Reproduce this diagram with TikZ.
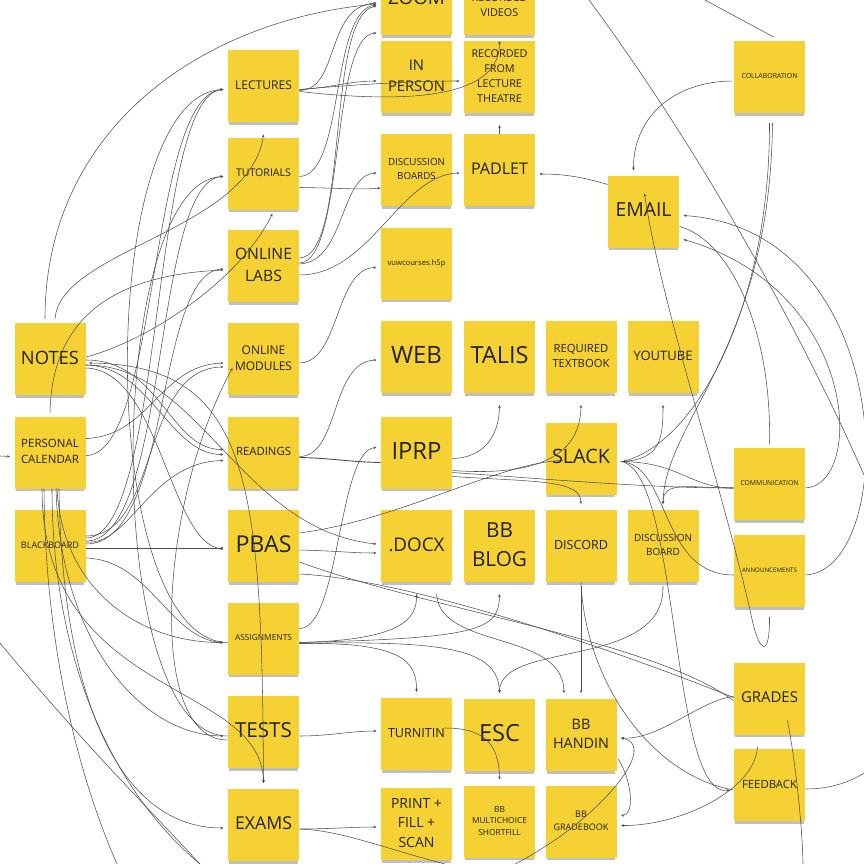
\documentclass[tikz,border=0pt]{standalone}
\usepackage{fontspec}
\setmainfont{Open Sans}
\usepackage{graphicx}
\usetikzlibrary{calc,arrows.meta,shadows}
\definecolor{notey}{RGB}{245,209,52}
\definecolor{ink}{RGB}{34,34,34}
\definecolor{wirec}{RGB}{80,80,80}
\newcommand{\stickytext}[2]{\resizebox{#1pt}{!}{\fontsize{10}{13.8}\selectfont\begin{tabular}{@{}c@{}}#2\end{tabular}}}
\begin{document}
\begin{tikzpicture}[x=1pt,y=-1pt,
 note/.style={rectangle, fill=notey, minimum width=71pt, minimum height=72pt, inner sep=0pt, text=ink,
   drop shadow={shadow xshift=0pt, shadow yshift=-4pt, shadow scale=0.97, opacity=0.25, fill=black}},
 conn/.style={draw=wirec, line width=0.55pt, -{Stealth[length=3pt,width=2.6pt]}},
 conn2/.style={draw=wirec, line width=0.55pt, {Stealth[length=3pt,width=2.6pt]}-{Stealth[length=3pt,width=2.6pt]}},
 plain/.style={draw=wirec, line width=0.55pt}]
\useasboundingbox (0,0) rectangle (864,864);
\clip (0,0) rectangle (864,864);
\fill[white] (0,0) rectangle (864,864);

% free ends
\coordinate (t1) at (589,0);
\coordinate (t2) at (705,0);
\coordinate (r1) at (864,475);
\coordinate (r2) at (864,773);
\coordinate (b1) at (117,864);
\coordinate (b2) at (200,864);
\coordinate (b3) at (445,864);
\coordinate (b4) at (515,864);
\coordinate (b5) at (803,864);
\coordinate (l1) at (0,456);
\coordinate (l2) at (0,643);

% notes
\node[note] (notes) at (50,359) {\stickytext{58}{NOTES}};
\node[note] (pcal) at (50,452.5) {\stickytext{58}{PERSONAL\\CALENDAR}};
\node[note] (bboard) at (50,546) {\stickytext{58}{BLACKBOARD}};

\node[note] (lect) at (263.5,86.5) {\stickytext{57}{LECTURES}};
\node[note] (tut) at (263.5,173.5) {\stickytext{55}{TUTORIALS}};
\node[note] (labs) at (263.5,266) {\stickytext{57}{ONLINE\\LABS}};
\node[note] (mods) at (263.5,359) {\stickytext{57}{ONLINE\\MODULES}};
\node[note] (read) at (263.5,452.5) {\stickytext{55}{READINGS}};
\node[note] (pbas) at (263.5,546) {\stickytext{56}{PBAS}};
\node[note] (assign) at (263.5,638.5) {\stickytext{57}{ASSIGNMENTS}};
\node[note] (tests) at (263.5,732) {\stickytext{57}{TESTS}};
\node[note] (exams) at (263.5,825) {\stickytext{57}{EXAMS}};

\node[note] (zoom) at (416.5,-1) {\stickytext{57}{ZOOM}};
\node[note] (inper) at (416.5,77) {\stickytext{57}{IN\\PERSON}};
\node[note] (discb) at (416.5,170) {\stickytext{57}{DISCUSSION\\BOARDS}};
\node[note] (hfive) at (416.5,263.5) {\stickytext{58}{vuwcourses.h5p}};
\node[note] (web) at (416.5,357) {\stickytext{51}{WEB}};
\node[note] (iprp) at (416.5,452.5) {\stickytext{50}{IPRP}};
\node[note] (docx) at (416.5,546) {\stickytext{56}{.DOCX}};
\node[note] (turn) at (416.5,734) {\stickytext{57}{TURNITIN}};
\node[note] (print) at (416.5,824) {\stickytext{51}{PRINT +\\FILL +\\SCAN}};

\node[note] (recvid) at (499.5,-1) {\raisebox{-7pt}[\height][\depth]{\stickytext{56}{RECORDED\\VIDEOS}}};
\node[note] (recfrom) at (499.5,77) {\stickytext{56}{RECORDED\\FROM\\LECTURE\\THEATRE}};
\node[note] (padlet) at (499.5,170) {\stickytext{57}{PADLET}};
\node[note] (talis) at (499.5,357) {\stickytext{58}{TALIS}};
\node[note] (blog) at (499.5,546) {\stickytext{55}{BB\\BLOG}};
\node[note] (esc) at (499.5,735) {\stickytext{41}{ESC}};
\node[note] (bbmc) at (499.5,821.5) {\stickytext{55}{BB\\MULTICHOICE\\SHORTFILL}};

\node[note] (reqtb) at (581,357) {\stickytext{57}{REQUIRED\\TEXTBOOK}};
\node[note] (slack) at (581,458.5) {\stickytext{58}{SLACK}};
\node[note] (discord) at (581,546) {\stickytext{54}{DISCORD}};
\node[note] (handin) at (581,735) {\stickytext{56}{BB\\HANDIN}};
\node[note] (gradebook) at (581,821.5) {\stickytext{55}{BB\\GRADEBOOK}};

\node[note] (youtube) at (663,357) {\stickytext{59}{YOUTUBE}};
\node[note] (discboard) at (663,546) {\stickytext{58}{DISCUSSION\\BOARD}};

\node[note] (email) at (643.5,211.5) {\stickytext{56}{EMAIL}};

\node[note] (collab) at (769.5,77) {\stickytext{56}{COLLABORATION}};
\node[note] (comm) at (769.5,484) {\stickytext{58}{COMMUNICATION}};
\node[note] (announce) at (769.5,571) {\stickytext{55}{ANNOUNCEMENTS}};
\node[note] (grades) at (769.5,698.5) {\stickytext{57}{GRADES}};
\node[note] (feedback) at (769.5,785) {\stickytext{55}{FEEDBACK}};

% left group
\draw[conn] ($(notes)+(-5,-40)$) .. controls (45,130) and (200,20) .. ($(zoom)+(-40,5)$);
\draw[conn] ($(notes)+(5,-40)$) .. controls (60,250) and (250,230) .. ($(lect)+(0,48)$);
\draw[conn] ($(notes)+(36,-2)$) .. controls (150,340) and (240,280) .. ($(tut)+(9,40)$);
\draw[conn] ($(pcal)+(0,-40)$) .. controls (52,320) and (110,275) .. ($(labs)+(-40,4)$);
\draw[conn] ($(bboard)+(36,-8)$) .. controls (165,538) and (150,95) .. ($(lect)+(-40,3)$);
\draw[conn] ($(bboard)+(36,-5)$) .. controls (170,541) and (152,180) .. ($(tut)+(-40,3)$);
\draw[conn] ($(bboard)+(36,-2)$) .. controls (172,544) and (155,272) .. ($(labs)+(-40,3)$);
\draw[conn] ($(assign)+(-36,4)$) .. controls (95,640) and (95,95) .. ($(lect)+(-40,3)$);
\draw[conn] ($(tests)+(-36,4)$) .. controls (100,736) and (105,180) .. ($(tut)+(-40,3)$);
\draw[conn] ($(tests)+(-36,8)$) .. controls (145,740) and (160,500) .. ($(mods)+(-31,9)$);
\draw[conn] ($(pcal)+(36,-14)$) .. controls (150,436) and (160,365) .. ($(mods)+(-40,4)$);
\draw[conn] ($(pcal)+(36,3)$) .. controls (160,455) and (148,95) .. ($(lect)+(-40,3)$);
\draw[conn] ($(bboard)+(36,-10)$) .. controls (160,536) and (140,368) .. ($(mods)+(-40,8)$);
\draw[conn] ($(bboard)+(36,-4)$) .. controls (130,546) and (150,462) .. ($(read)+(-40,8)$);
\draw[conn] ($(notes)+(36,1)$) .. controls (160,360) and (170,450) .. ($(read)+(-40,-3)$);
\draw[conn] ($(notes)+(36,6)$) .. controls (150,366) and (170,455) .. ($(read)+(-40,2)$);
\draw[conn] ($(notes)+(36,6)$) .. controls (200,365) and (240,530) .. ($(docx)+(-40,-2)$);
\draw[conn2] ($(notes)+(39,4)$) .. controls (250,365) and (262,480) .. ($(exams)+(0,-42)$);
\draw[conn] ($(notes)+(36,9)$) .. controls (160,370) and (170,545) .. ($(pbas)+(-40,3)$);
\draw[conn] ($(bboard)+(36,2)$) -- ($(pbas)+(-40,2)$);
\draw[conn] ($(bboard)+(36,12)$) .. controls (150,560) and (170,640) .. ($(assign)+(-40,4)$);
\draw[conn] ($(pcal)+(7,36)$) .. controls (62,590) and (140,643) .. ($(assign)+(-40,4)$);
\draw[conn] ($(pcal)+(-8,36)$) .. controls (42,700) and (262,680) .. ($(exams)+(0,-42)$);
\draw[plain] ($(pcal)+(-6,36)$) .. controls (45,650) and (80,780) .. (b1);
\draw[plain] ($(pcal)+(2,36)$) .. controls (52,640) and (100,780) .. (b2);
\draw[conn] ($(pcal)+(6,36)$) .. controls (60,640) and (140,735) .. ($(tests)+(-40,4)$);
\draw[conn] ($(pcal)+(9,36)$) .. controls (62,700) and (120,828) .. ($(exams)+(-40,3)$);
\draw[conn] (l1) -- ($(pcal)+(-40,4)$);
\draw[plain] (l2) .. controls (80,740) and (150,810) .. (b2);

% column B to C/D
\draw[conn] ($(lect)+(36,4)$) .. controls (340,90) and (325,6) .. ($(zoom)+(-40,4)$);
\draw[conn] ($(tut)+(36,3)$) .. controls (345,175) and (330,10) .. ($(zoom)+(-40,6)$);
\draw[conn] ($(labs)+(36,-8)$) .. controls (350,256) and (325,15) .. ($(zoom)+(-40,7)$);
\draw[conn] ($(labs)+(36,-3)$) .. controls (345,262) and (330,36) .. ($(zoom)+(-40,34)$);
\draw[conn] ($(lect)+(36,3)$) .. controls (330,88) and (350,81) .. ($(inper)+(-40,4)$);
\draw[conn] ($(lect)+(36,3)$) .. controls (360,84) and (420,81) .. ($(recfrom)+(-40,4)$);
\draw[conn] ($(lect)+(36,5)$) .. controls (420,105) and (500,95) .. ($(recvid)+(0,42)$);
\draw[conn] ($(tut)+(36,14)$) .. controls (340,188) and (360,190) .. ($(discb)+(-36,18)$);
\draw[conn] ($(labs)+(36,-2)$) .. controls (345,262) and (340,175) .. ($(discb)+(-40,3)$);
\draw[conn] ($(labs)+(36,9)$) .. controls (370,275) and (400,175) .. ($(padlet)+(-40,3)$);
\draw[conn] ($(mods)+(36,4)$) .. controls (340,362) and (335,268) .. ($(hfive)+(-40,4)$);
\draw[conn] ($(padlet)+(0,-36)$) -- ($(recfrom)+(0,48)$);
\draw[conn] ($(email)+(-36,-27)$) .. controls (580,176) and (560,174) .. ($(padlet)+(40,4)$);
\draw[conn] ($(collab)+(-38,4)$) .. controls (670,82) and (633,120) .. ($(email)+(-10,-41)$);
\draw[plain] (t2) -- ($(collab)+(4,-40)$);
\draw[plain] (t1) .. controls (700,150) and (800,330) .. (r1);
\draw[conn] ($(read)+(36,4)$) .. controls (340,456) and (330,362) .. ($(web)+(-40,3)$);
\draw[plain, line width=0.9pt] ($(read)+(36,5)$) .. controls (330,458) and (350,462) .. ($(iprp)+(-36,10)$);
\draw[conn] ($(assign)+(36,-10)$) .. controls (340,628) and (338,450) .. ($(iprp)+(-40,-5)$);
\draw[conn] ($(pbas)+(36,4)$) .. controls (340,551) and (350,553) .. ($(docx)+(-40,7)$);
\draw[plain] ($(pbas)+(36,-13)$) .. controls (400,520) and (500,462) .. ($(slack)+(-18,2)$);
\draw[conn] ($(iprp)+(36,6)$) .. controls (480,458) and (499,440) .. ($(talis)+(0,48)$);
\draw[conn] ($(iprp)+(36,18)$) .. controls (530,476) and (580,460) .. ($(reqtb)+(0,48)$);
\draw[plain] ($(iprp)+(36,20)$) .. controls (560,480) and (650,488) .. ($(comm)+(-36,4)$);
\draw[conn] ($(iprp)+(36,24)$) .. controls (540,482) and (580,480) .. ($(discord)+(0,-42)$);

% slack and right side
\draw[conn] ($(collab)+(0,46)$) .. controls (770,300) and (700,440) .. ($(slack)+(42,3)$);
\draw[conn] ($(slack)+(40,3)$) .. controls (660,460) and (663,440) .. ($(youtube)+(0,48)$);
\draw[plain] ($(slack)+(40,3)$) .. controls (680,462) and (690,488) .. ($(comm)+(-36,4)$);
\draw[plain] ($(slack)+(40,3)$) .. controls (670,465) and (660,575) .. ($(announce)+(-36,4)$);
\draw[conn] ($(slack)+(40,3)$) .. controls (680,470) and (670,800) .. ($(feedback)+(-40,5)$);
\draw[conn] ($(comm)+(-36,4)$) .. controls (690,488) and (663,480) .. ($(discboard)+(0,-42)$);
\draw[conn] ($(collab)+(3,46)$) .. controls (770,350) and (665,420) .. ($(discboard)+(0,-42)$);
\draw[plain] ($(email)+(36,15)$) .. controls (730,240) and (772,330) .. ($(comm)+(0,-40)$);
\draw[conn] ($(comm)+(36,4)$) .. controls (865,485) and (860,290) .. ($(email)+(40,28)$);
\draw[conn] ($(announce)+(36,4)$) .. controls (900,570) and (900,230) .. ($(email)+(40,4)$);
\draw[conn] ($(announce)+(0,46)$) .. controls (770,655) and (760,660) .. (750,610) .. controls (720,480) and (660,300) .. ($(email)+(1,-18)$);

% bottom
\draw[plain] ($(discord)+(0,36)$) .. controls (585,680) and (650,775) .. ($(feedback)+(-36,5)$);
\draw[conn] ($(discord)+(0,40)$) -- ($(handin)+(0,-42)$);
\draw[conn] ($(discboard)+(0,40)$) .. controls (665,670) and (500,640) .. ($(esc)+(0,-42)$);
\draw[conn] ($(assign)+(36,5)$) .. controls (400,642) and (417,660) .. ($(turn)+(0,-42)$);
\draw[conn] ($(assign)+(36,5)$) .. controls (450,640) and (498,650) .. ($(esc)+(0,-42)$);
\draw[conn] ($(assign)+(36,4)$) .. controls (400,640) and (417,620) .. ($(docx)+(0,48)$);
\draw[conn] ($(assign)+(36,4)$) .. controls (480,638) and (499,630) .. ($(blog)+(0,48)$);
\draw[conn] ($(docx)+(20,48)$) .. controls (440,650) and (563,630) .. ($(handin)+(-17,-42)$);
\draw[plain] ($(pbas)+(36,16)$) .. controls (430,610) and (650,640) .. ($(grades)+(-36,2)$);
\draw[plain] ($(pbas)+(36,28)$) .. controls (420,580) and (640,660) .. ($(grades)+(-36,-1)$);
\draw[conn] ($(tests)+(36,4)$) .. controls (330,736) and (350,731) .. ($(turn)+(-40,-3)$);
\draw[conn] ($(turn)+(28,-6)$) .. controls (480,728) and (499,740) .. ($(bbmc)+(0,-42)$);
\draw[conn] ($(exams)+(36,4)$) .. controls (330,829) and (350,827) .. ($(print)+(-40,3)$);
\draw[plain] ($(exams)+(36,4)$) .. controls (340,830) and (390,850) .. (b3);
\draw[conn] ($(grades)+(-36,-2)$) .. controls (700,700) and (660,740) .. ($(handin)+(40,3)$);
\draw[conn] (b4) .. controls (600,820) and (660,745) .. ($(handin)+(40,3)$);
\draw[conn] ($(handin)+(37,24)$) .. controls (632,780) and (635,815) .. ($(gradebook)+(40,-6)$);
\draw[conn] ($(feedback)+(-12,-38)$) .. controls (755,790) and (680,826) .. ($(gradebook)+(40,4)$);
\draw[plain] ($(grades)+(18,22)$) .. controls (795,760) and (802,820) .. (b5);
\draw[plain] ($(feedback)+(36,4)$) .. controls (830,789) and (850,782) .. (r2);
\end{tikzpicture}
\end{document}
